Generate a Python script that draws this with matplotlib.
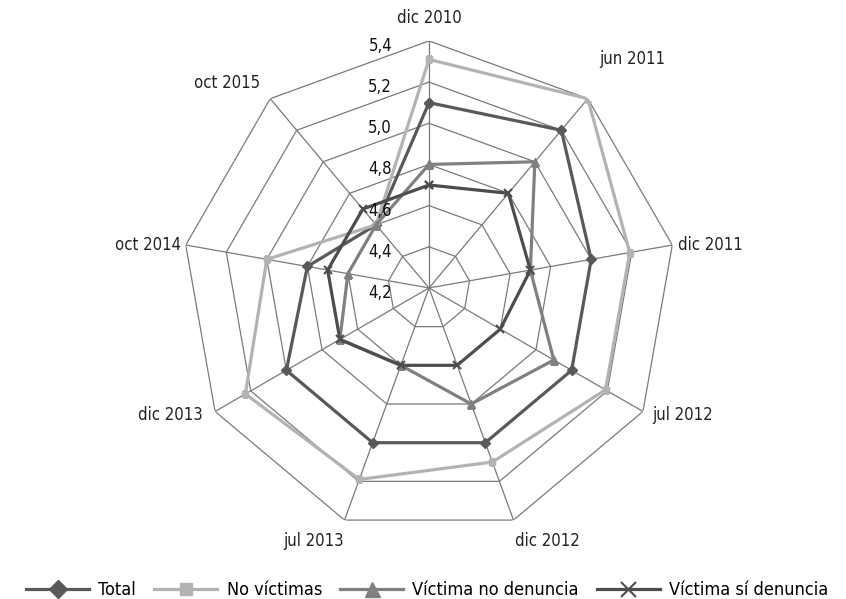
import numpy as np
import matplotlib.pyplot as plt

plt.rcParams['font.family'] = ['DejaVu Sans']
plt.rcParams['font.stretch'] = 'condensed'

categorias = ['dic 2010', 'jun 2011', 'dic 2011', 'jul 2012', 'dic 2012',
              'jul 2013', 'dic 2013', 'oct 2014', 'oct 2015']
total = [5.10, 5.20, 5.00, 5.00, 5.00, 5.00, 5.00, 4.80, 4.60]
no_victimas = [5.31, 5.40, 5.19, 5.19, 5.10, 5.19, 5.23, 5.00, 4.60]
victima_no_denuncia = [4.80, 5.00, 4.70, 4.90, 4.80, 4.60, 4.70, 4.60, 4.60]
victima_si_denuncia = [4.70, 4.80, 4.70, 4.60, 4.60, 4.60, 4.70, 4.70, 4.70]
niveles = [4.2, 4.4, 4.6, 4.8, 5.0, 5.2, 5.4]
etiquetas_r = ['4,2', '4,4', '4,6', '4,8', '5,0', '5,2', '5,4']

n = len(categorias)
angulos = np.linspace(0, 2 * np.pi, n, endpoint=False)
cerrado = np.append(angulos, angulos[0])

def cerrar(v):
    return list(v) + [v[0]]

fig = plt.figure(figsize=(8.46, 5.99), dpi=100)
ax = fig.add_axes([0.2151, 0.1068, 0.584, 0.825], projection='polar')
ax.set_theta_offset(np.pi / 2)
ax.set_theta_direction(-1)
ax.set_ylim(4.2, 5.4)
ax.grid(False)
ax.spines['polar'].set_visible(False)
ax.patch.set_visible(False)
ax.set_xticks([])
ax.set_yticks([])

# rejilla poligonal
for nivel in niveles[1:]:
    ax.plot(cerrado, [nivel] * (n + 1), color='#7a7a7a', lw=0.9, zorder=1)
for a in angulos:
    ax.plot([a, a], [4.2, 5.4], color='#7a7a7a', lw=0.9, zorder=1)

series = [
    ('Total', total, '#595959', 'D', 5, 1),
    ('No víctimas', no_victimas, '#b3b3b3', 's', 5, 1),
    ('Víctima no denuncia', victima_no_denuncia, '#808080', '^', 6, 1),
    ('Víctima sí denuncia', victima_si_denuncia, '#4d4d4d', 'x', 6, 1.5),
]
for nombre, vals, color, mk, ms, mew in series:
    ax.plot(cerrado, cerrar(vals), color=color, lw=2.3, marker=mk, ms=ms,
            mew=mew, label=nombre, zorder=3)

for nivel, et in zip(niveles, etiquetas_r):
    ax.annotate(et, xy=(0, nivel), xytext=(-37, -5), textcoords='offset pixels',
                ha='right', va='center', fontsize=12, color='#111111')

# etiquetas de categorias
desplaz = [(0, 23, 'center'), (11, 40, 'left'), (6, 0, 'left'), (9, -4, 'left'),
           (2, -21, 'left'), (-1, -21, 'right'), (-12, -4, 'right'),
           (-5, 0, 'right'), (-10, 16, 'right')]
for a, cat, (dx, dy, ha) in zip(angulos, categorias, desplaz):
    ax.annotate(cat, xy=(a, 5.4), xytext=(dx, dy), textcoords='offset pixels',
                ha=ha, va='center', fontsize=12, color='#222222')

fig.legend(loc='center', bbox_to_anchor=(0.505, 1 - 590 / 599), ncol=4,
           frameon=False, handlelength=3.5, markerscale=1.8, fontsize=13,
           columnspacing=1.0, handletextpad=0.5)

fig.savefig('out.png', dpi=100)
